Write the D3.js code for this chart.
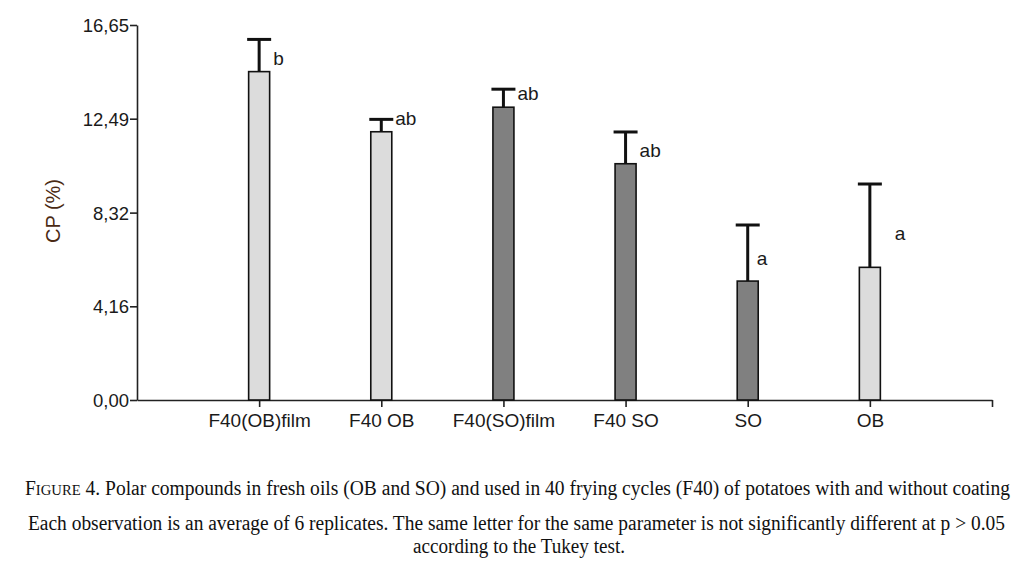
<!DOCTYPE html>
<html>
<head>
<meta charset="utf-8">
<script src="https://cdn.jsdelivr.net/npm/d3@7"></script>
<style>
  html, body { margin: 0; padding: 0; background: #fff; }
  svg { display: block; }
</style>
</head>
<body>
<svg id="chart" width="1036" height="566"></svg>
<script>
// Data
const categories = ['F40(OB)film', 'F40 OB', 'F40(SO)film', 'F40 SO', 'SO', 'OB'];
const cpMean = [14.58, 11.91, 13.00, 10.49, 5.28, 5.89];
const cpError = [1.43, 0.55, 0.80, 1.41, 2.49, 3.70];
const oilType = ['OB', 'OB', 'SO', 'SO', 'SO', 'OB'];
const tukeyLetters = ['b', 'ab', 'ab', 'ab', 'a', 'a'];
const letterValue = [14.88, 12.21, 13.32, 10.79, 6.00, 7.10];
const yTicks = [0, 4.16, 8.32, 12.49, 16.65];
const captionLines = [
  'Each observation is an average of 6 replicates. The same letter for the same parameter is not significantly different at p > 0.05',
  'according to the Tukey test.'
];

/*******************************************************************************
 * Layout
 *******************************************************************************/
const svg = d3.select('#chart');
const axisLeftX = 137, axisRightX = 992;
const axisTopY = 25, axisBottomY = 400;
const barWidth = 21, capHalf = 12;
const fill = {'OB': '#dcdcdc', 'SO': '#808080'};
const sans = '"Liberation Sans", Arial, sans-serif';
const serif = '"Liberation Serif", "Times New Roman", serif';

// one empty slot on the left, six categories, axis ends one step after the last
let x = d3.scaleLinear().domain([0, categories.length + 1]).range([axisLeftX, axisRightX]);
let y = d3.scaleLinear().domain([0, 16.65]).range([axisBottomY, axisTopY]);
const cx = i => x(i + 1);

/*******************************************************************************
 * Axes
 *******************************************************************************/
let yAxis = svg.append('g')
  .attr('transform', `translate(${axisLeftX},0)`)
  .call(d3.axisLeft(y).tickValues(yTicks).tickSize(7).tickSizeOuter(0)
    .tickFormat(d => d.toFixed(2).replace('.', ',')));

let xAxis = svg.append('g')
  .attr('transform', `translate(0,${axisBottomY})`)
  .call(d3.axisBottom(x).tickValues(d3.range(1, categories.length + 2)).tickSize(7).tickSizeOuter(0)
    .tickFormat(d => categories[d - 1] || ''));

[yAxis, xAxis].forEach(g => {
  g.selectAll('path, line').attr('stroke', '#222').attr('stroke-width', 1.6);
  g.selectAll('text').attr('font-family', sans).attr('font-size', 18.5).attr('fill', '#1a1a1a');
});
yAxis.selectAll('text').attr('x', -8).attr('dy', '0.36em');
xAxis.selectAll('text').attr('font-size', 19).attr('y', 14).attr('dy', '0.71em');

svg.append('text')
  .attr('transform', 'translate(60,211) rotate(-90)')
  .attr('text-anchor', 'middle')
  .attr('font-family', sans).attr('font-size', 20)
  .attr('fill', '#4a2a14')
  .text('CP (%)');

/*******************************************************************************
 * Bars, error bars and letters
 *******************************************************************************/
let rows = categories.map((c, i) => ({c, i, v: cpMean[i], e: cpError[i], t: oilType[i],
                                      letter: tukeyLetters[i], ly: letterValue[i]}));

let bars = svg.append('g');

bars.selectAll('line.stem').data(rows).enter().append('line')
  .attr('class', 'stem')
  .attr('x1', d => cx(d.i)).attr('x2', d => cx(d.i))
  .attr('y1', d => y(d.v)).attr('y2', d => y(d.v + d.e))
  .attr('stroke', '#111').attr('stroke-width', 3);

bars.selectAll('line.cap').data(rows).enter().append('line')
  .attr('class', 'cap')
  .attr('x1', d => cx(d.i) - capHalf).attr('x2', d => cx(d.i) + capHalf)
  .attr('y1', d => y(d.v + d.e)).attr('y2', d => y(d.v + d.e))
  .attr('stroke', '#111').attr('stroke-width', 3);

bars.selectAll('rect').data(rows).enter().append('rect')
  .attr('x', d => cx(d.i) - barWidth / 2)
  .attr('y', d => y(d.v))
  .attr('width', barWidth)
  .attr('height', d => y(0) - y(d.v))
  .attr('fill', d => fill[d.t])
  .attr('stroke', '#111').attr('stroke-width', 1.6);

// the letter next to OB sits further out than the others
const letterNudge = d => d.c === 'OB' ? 25 : (d.c === 'SO' ? 9 : 14);
bars.selectAll('text').data(rows).enter().append('text')
  .attr('x', d => cx(d.i) + letterNudge(d))
  .attr('y', d => y(d.ly))
  .attr('font-family', sans).attr('font-size', 19).attr('fill', '#1a1a1a')
  .text(d => d.letter);

/*******************************************************************************
 * Caption
 *******************************************************************************/
let cap1 = svg.append('text')
  .attr('x', 25).attr('y', 495)
  .attr('font-family', serif).attr('font-size', 20).attr('fill', '#111')
  .attr('textLength', 985).attr('lengthAdjust', 'spacingAndGlyphs');
cap1.append('tspan').text('F');
cap1.append('tspan').attr('font-size', 15).text('IGURE');
cap1.append('tspan').text(' 4. Polar compounds in fresh oils (OB and SO) and used in 40 frying cycles (F40) of potatoes with and without coating');

svg.append('text')
  .attr('x', 28).attr('y', 530)
  .attr('font-family', serif).attr('font-size', 20).attr('fill', '#111')
  .attr('textLength', 977).attr('lengthAdjust', 'spacingAndGlyphs')
  .text(captionLines[0]);

svg.append('text')
  .attr('x', 413).attr('y', 553)
  .attr('font-family', serif).attr('font-size', 20).attr('fill', '#111')
  .attr('textLength', 212).attr('lengthAdjust', 'spacingAndGlyphs')
  .text(captionLines[1]);
</script>
</body>
</html>
